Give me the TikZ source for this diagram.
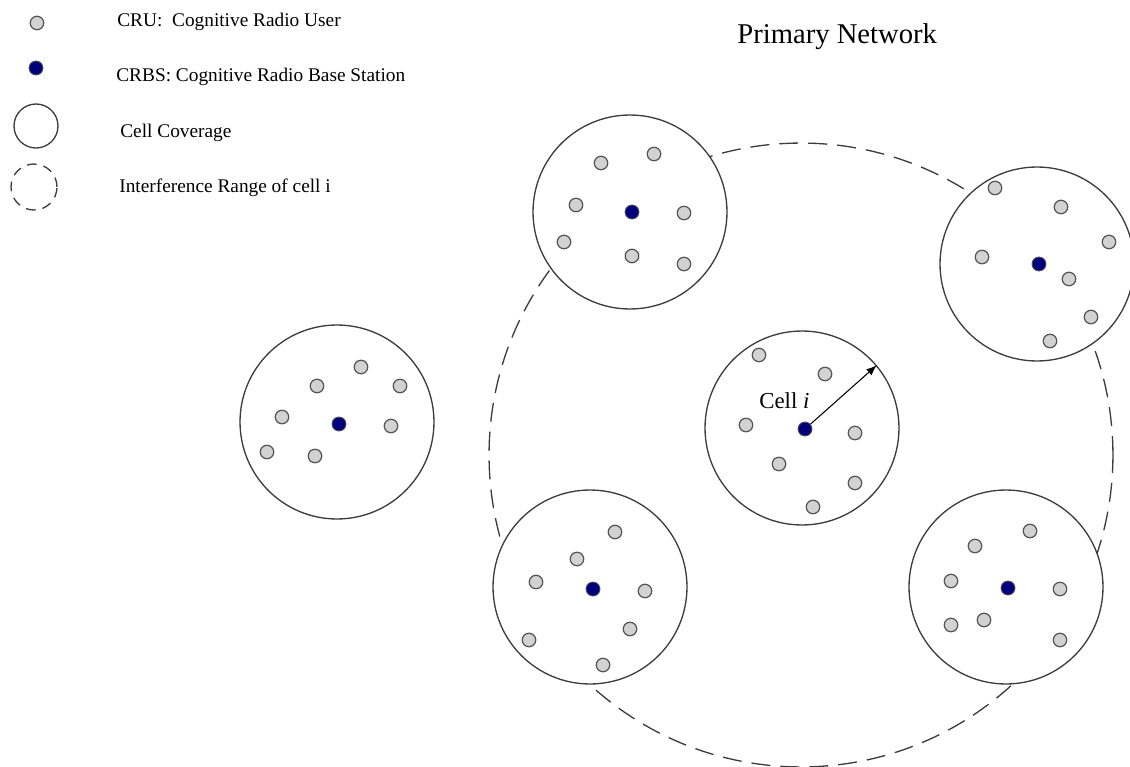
\documentclass[tikz,border=0pt]{standalone}
\usepackage{fontspec}
\setmainfont{Liberation Serif}
\usetikzlibrary{arrows.meta}

\definecolor{cruGray}{RGB}{210,210,210}
\definecolor{dotEdge}{RGB}{85,85,85}
\definecolor{bsBlue}{RGB}{0,0,125}
\definecolor{cellLine}{RGB}{60,60,60}

\tikzset{
    cru/.style={circle, draw=dotEdge, fill=cruGray, line width=0.7pt,
        minimum size=0.27cm, inner sep=0pt},
    crbs/.style={circle, draw=dotEdge, fill=bsBlue, line width=0.5pt,
        minimum size=0.28cm, inner sep=0pt},
    cell/.style={circle, draw=cellLine, fill=white, line width=0.75pt,
        minimum size=3.88cm, inner sep=0pt},
    interference/.style={circle, draw=cellLine, line width=0.75pt,
        dash pattern=on 10.8pt off 5.7pt, inner sep=0pt},
    legendtext/.style={anchor=base west, inner sep=0pt,
        font=\fontsize{11}{13}\selectfont},
}

\begin{document}
\begin{tikzpicture}[x=0.02cm, y=-0.02cm]

\useasboundingbox (0,0) rectangle (1130,767);

% Interference range of cell i
\node[interference, minimum size=12.48cm] (irange) at (801,455) {};

% Cells
\foreach \name/\x/\y in {
    ci/802/428,
    ctop/630/212,
    ctopright/1037/264,
    cleft/337/422,
    cbotleft/590/587,
    cbotright/1006/587
} {
    \node[cell] (\name) at (\x,\y) {};
}

% Base stations
\foreach \name/\x/\y in {
    bsi/805/429,
    bstop/632/212,
    bstopright/1039/264,
    bsleft/339/424,
    bsbotleft/593/589,
    bsbotright/1008/588
} {
    \node[crbs] (\name) at (\x,\y) {};
}

% Users
\foreach \x/\y [count=\i] in {
    759/355, 825/374, 746/425, 855/433, 779/464, 855/483, 813/507,
    601/163, 654/154, 576/205, 684/213, 564/242, 632/256, 684/264,
    995/188, 1061/207, 1109/242, 982/257, 1069/279, 1091/317, 1050/341,
    361/367, 317/386, 400/386, 282/417, 391/426, 267/452, 315/456,
    615/532, 577/559, 536/582, 645/591, 630/629, 529/640, 603/665,
    1030/531, 975/546, 951/581, 1060/589, 984/620, 951/625, 1060/640%
} {
    \node[cru] (u\i) at (\x,\y) {};
}

% Radius of cell i
\draw[-{Latex[length=6pt,width=4.5pt]}, line width=0.6pt] (bsi) -- (ci.40);
\node[anchor=base west, inner sep=0pt, font=\fontsize{13}{15}\selectfont]
    (celllabel) at (759,408) {Cell \textit{i}};

\node[anchor=base west, inner sep=0pt, font=\fontsize{16.3}{19}\selectfont]
    (title) at (737,44) {Primary Network};

% Legend
\node[cru] (legcru) at (37,23) {};
\node[crbs] (legbs) at (36,68) {};
\node[circle, draw=cellLine, line width=0.75pt, minimum size=0.88cm] (legcell) at (36,126) {};
\node[circle, draw=cellLine, line width=0.75pt, dash pattern=on 5.5pt off 4pt,
    minimum size=0.92cm] (legint) at (34,187) {};

\node[legendtext] (txtcru) at (117,27) {CRU:~ Cognitive Radio User};
\node[legendtext] (txtbs) at (116,82) {CRBS: Cognitive Radio Base Station};
\node[legendtext] (txtcell) at (120,138) {Cell Coverage};
\node[legendtext] (txtint) at (119,193) {Interference Range of cell i};

\end{tikzpicture}
\end{document}
